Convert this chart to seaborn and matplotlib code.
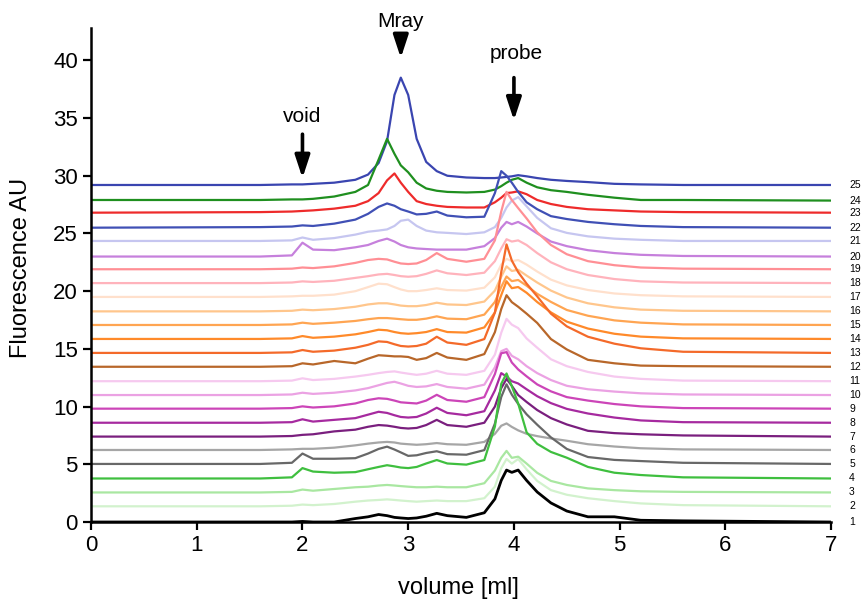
import matplotlib
matplotlib.use("Agg")
import matplotlib.pyplot as plt
import pandas as pd
import seaborn as sns

# shared elution-volume grid (ml)
volume = [0.0, 1.6, 1.9, 2.0, 2.1, 2.3, 2.5, 2.62, 2.72, 2.8, 2.87, 2.93, 3.0, 3.08,
          3.17, 3.27, 3.37, 3.55, 3.72, 3.82, 3.88, 3.93, 3.98, 4.04, 4.12, 4.22,
          4.35, 4.5, 4.7, 4.95, 5.2, 5.6, 7.0]

# vertical offset of each trace (Fluorescence AU)
baselines = [0.0, 1.36, 2.56, 3.77, 5.03, 6.24, 7.4, 8.6, 9.82, 11.0, 12.2, 13.45,
             14.65, 15.86, 17.07, 18.25, 19.5, 20.7, 21.9, 23.0, 24.35, 25.5, 26.8,
             27.8, 29.2]

trace_labels = ["1", "2", "3", "4", "5", "6", "7", "8", "9", "10", "11", "12", "13",
                "14", "15", "16", "17", "18", "19", "20", "21", "22", "23", "24", "25"]

colors = ["#000000", "#d2f2cd", "#a9e7a1", "#3fbf3f", "#686868", "#a6a6a6",
          "#7a1f7e", "#a62a9f", "#cc45b8", "#eba2e3", "#f6c9ef", "#b8672a",
          "#f46a2a", "#ff8a2a", "#ffa552", "#ffc68c", "#ffe0cc", "#ffb3bc",
          "#ff8f95", "#c680dc", "#c6c6f0", "#4050b5", "#ee2b2b", "#1f8f1f",
          "#3a45b0"]

# signal above each trace's own baseline
trace_1 = [0, 0, 0, 0.05, 0, 0, 0.3, 0.45, 0.65, 0.55, 0.4, 0.35, 0.3, 0.35, 0.5, 0.75, 0.55,
           0.4, 0.8, 2.0, 3.6, 4.5, 4.3, 4.5, 3.6, 2.6, 1.65, 0.95, 0.45, 0.45, 0.15, 0.1, 0]
trace_2 = [0, 0, 0.05, 0.15, 0.1, 0.2, 0.4, 0.5, 0.55, 0.6, 0.55, 0.5, 0.45, 0.4, 0.45, 0.5,
           0.45, 0.45, 0.7, 1.7, 3.3, 4.1, 3.7, 4.1, 3.2, 2.2, 1.4, 1.0, 0.7, 0.45, 0.25, 0.1, 0]
trace_3 = [0, 0, 0.05, 0.25, 0.15, 0.3, 0.45, 0.5, 0.6, 0.65, 0.6, 0.55, 0.5, 0.45, 0.45, 0.5,
           0.45, 0.45, 0.8, 1.9, 3.0, 3.6, 3.0, 3.1, 2.5, 1.7, 1.0, 0.65, 0.35, 0.2, 0.1, 0.05, 0]
trace_4 = [0, 0, 0.1, 0.9, 0.6, 0.5, 0.55, 0.8, 1.0, 1.15, 1.05, 0.95, 0.9, 1.0, 1.3, 1.6,
           1.3, 1.2, 1.6, 4.5, 8.2, 9.1, 8.0, 6.5, 4.0, 3.0, 2.3, 1.8, 1.0, 0.5, 0.3, 0.1, 0]
trace_5 = [0, 0, 0.1, 0.9, 0.45, 0.45, 0.5, 0.9, 1.3, 1.5, 1.25, 1.0, 0.7, 0.75, 0.95, 1.1,
           0.85, 0.8, 1.2, 3.5, 5.8, 6.9, 6.0, 5.2, 4.3, 3.4, 2.3, 1.3, 0.6, 0.35, 0.25, 0.1, 0]
trace_6 = [0, 0, 0.05, 0.1, 0.1, 0.2, 0.4, 0.55, 0.65, 0.7, 0.65, 0.55, 0.5, 0.45, 0.5, 0.6,
           0.5, 0.45, 0.7, 1.4, 2.1, 2.3, 2.0, 1.7, 1.4, 1.2, 1.0, 0.8, 0.5, 0.3, 0.15, 0.05, 0]
trace_7 = [0, 0, 0.05, 0.15, 0.2, 0.45, 0.6, 0.85, 1.0, 0.95, 0.85, 0.75, 0.7, 0.75, 1.0, 1.45,
           1.0, 0.85, 1.2, 2.6, 4.2, 5.0, 4.4, 3.6, 3.0, 2.3, 1.6, 1.05, 0.5, 0.3, 0.2, 0.1, 0]
trace_8 = [0, 0, 0.05, 0.3, 0.1, 0.25, 0.4, 0.7, 0.95, 0.85, 0.65, 0.5, 0.45, 0.5, 0.8, 1.3,
           0.85, 0.65, 1.0, 2.8, 4.3, 4.0, 3.6, 3.4, 2.9, 2.3, 1.7, 1.2, 0.8, 0.45, 0.2, 0.05, 0]
trace_9 = [0, 0, 0.05, 0.2, 0.1, 0.2, 0.45, 0.75, 0.9, 0.85, 0.7, 0.55, 0.5, 0.45, 0.7, 1.2,
           0.75, 0.6, 1.0, 3.0, 4.8, 4.9, 4.0, 3.4, 2.8, 2.1, 1.5, 1.0, 0.7, 0.4, 0.2, 0.05, 0]
trace_10 = [0, 0, 0.05, 0.2, 0.1, 0.2, 0.4, 0.6, 0.85, 1.05, 1.15, 1.0, 0.8, 0.7, 0.75, 0.95,
            0.7, 0.55, 0.9, 2.4, 3.8, 4.0, 3.4, 3.1, 2.5, 1.9, 1.3, 0.8, 0.5, 0.3, 0.15, 0.05, 0]
trace_11 = [0, 0, 0.05, 0.25, 0.1, 0.2, 0.4, 0.55, 0.7, 0.8, 0.85, 0.75, 0.65, 0.55, 0.65, 0.9,
            0.65, 0.55, 0.9, 2.3, 4.2, 5.4, 4.9, 4.6, 3.7, 2.9, 1.9, 1.3, 0.8, 0.4, 0.2, 0.05, 0]
trace_12 = [0, 0, 0.05, 0.3, 0.2, 0.5, 0.3, 0.7, 1.0, 0.95, 0.9, 0.9, 0.85, 0.6, 0.75, 1.2,
            0.8, 0.6, 1.1, 3.0, 5.0, 6.2, 5.6, 5.2, 4.6, 3.8, 2.4, 1.5, 0.6, 0.3, 0.1, 0.05, 0]
trace_13 = [0, 0, 0.05, 0.25, 0.1, 0.2, 0.45, 0.7, 1.0, 0.95, 0.75, 0.6, 0.55, 0.6, 0.8, 1.4,
            0.9, 0.7, 1.2, 3.5, 7.0, 9.4, 8.0, 7.0, 6.0, 4.9, 3.4, 2.3, 1.4, 0.8, 0.4, 0.1, 0]
trace_14 = [0, 0, 0.05, 0.25, 0.1, 0.2, 0.4, 0.6, 0.8, 0.75, 0.6, 0.5, 0.45, 0.5, 0.6, 0.85,
            0.6, 0.55, 1.0, 2.3, 3.8, 5.0, 4.4, 4.5, 4.0, 3.2, 2.3, 1.5, 0.9, 0.45, 0.2, 0.05, 0]
trace_15 = [0, 0, 0.05, 0.2, 0.1, 0.2, 0.35, 0.5, 0.6, 0.6, 0.55, 0.5, 0.45, 0.45, 0.55, 0.75,
            0.55, 0.5, 0.9, 2.0, 3.3, 4.2, 3.8, 3.9, 3.4, 2.7, 2.0, 1.3, 0.8, 0.4, 0.2, 0.05, 0]
trace_16 = [0, 0, 0.05, 0.15, 0.1, 0.2, 0.4, 0.6, 0.7, 0.7, 0.6, 0.5, 0.45, 0.45, 0.55, 0.75,
            0.6, 0.55, 0.85, 1.8, 3.0, 3.9, 3.5, 3.6, 3.1, 2.5, 1.8, 1.2, 0.7, 0.35, 0.15, 0.05, 0]
trace_17 = [0, 0, 0.05, 0.1, 0.1, 0.2, 0.5, 0.85, 1.15, 1.1, 0.85, 0.65, 0.5, 0.5, 0.6, 0.75,
            0.6, 0.55, 0.8, 1.7, 2.8, 3.3, 3.1, 3.2, 2.8, 2.2, 1.5, 1.0, 0.6, 0.3, 0.15, 0.05, 0]
trace_18 = [0, 0, 0.05, 0.15, 0.1, 0.2, 0.45, 0.6, 0.75, 0.8, 0.7, 0.6, 0.55, 0.6, 0.8, 1.1,
            0.85, 0.7, 0.9, 1.9, 3.0, 3.8, 3.6, 3.7, 3.3, 2.6, 1.8, 1.2, 0.7, 0.35, 0.15, 0.05, 0]
trace_19 = [0, 0, 0.05, 0.15, 0.1, 0.25, 0.55, 0.8, 0.9, 0.85, 0.65, 0.5, 0.45, 0.5, 0.8, 1.4,
            0.9, 0.65, 0.9, 2.5, 5.0, 6.7, 6.0, 5.3, 4.4, 3.2, 2.1, 1.3, 0.7, 0.35, 0.15, 0.05, 0]
trace_20 = [0, 0, 0.1, 1.2, 0.6, 0.55, 0.8, 1.0, 1.35, 1.55, 1.3, 1.0, 0.8, 0.7, 0.65, 0.6,
            0.6, 0.6, 0.9, 1.6, 2.5, 3.0, 2.8, 3.0, 2.6, 2.0, 1.3, 0.9, 0.55, 0.3, 0.15, 0.05, 0]
trace_21 = [0, 0, 0.05, 0.3, 0.1, 0.25, 0.55, 0.8, 0.9, 1.0, 1.3, 1.75, 1.85, 1.3, 0.9, 0.75,
            0.7, 0.6, 0.75, 1.2, 2.0, 2.9, 3.5, 3.8, 3.0, 2.0, 1.1, 0.7, 0.4, 0.2, 0.1, 0, 0]
trace_22 = [0, 0.05, 0.1, 0.2, 0.15, 0.35, 0.7, 1.2, 1.8, 2.1, 1.9, 1.6, 1.4, 1.15, 1.2, 1.4,
            1.05, 0.9, 0.95, 3.0, 4.9, 4.5, 3.9, 3.1, 2.2, 1.6, 1.0, 0.75, 0.5, 0.3, 0.15, 0.05, 0]
trace_23 = [0, 0.05, 0.1, 0.15, 0.2, 0.35, 0.6, 1.0, 1.7, 2.8, 3.4, 2.6, 1.8, 1.0, 0.75, 0.6,
            0.5, 0.45, 0.45, 0.9, 1.3, 1.7, 1.75, 1.85, 1.6, 1.1, 0.75, 0.5, 0.3, 0.2, 0.1, 0.05, 0]
trace_24 = [0.1, 0.1, 0.15, 0.15, 0.2, 0.4, 0.8, 1.4, 3.6, 5.4, 4.1, 3.1, 2.5, 1.6, 1.1, 0.9,
            0.8, 0.75, 0.8, 1.0, 1.3, 1.6, 1.85, 2.0, 1.6, 1.2, 0.95, 0.8, 0.55, 0.3, 0.1, 0.1, 0.05]
trace_25 = [0, 0, 0.05, 0.05, 0.1, 0.2, 0.45, 0.9, 1.9, 3.8, 7.8, 9.3, 7.8, 4.0, 2.0, 1.2,
            0.8, 0.65, 0.6, 0.6, 0.65, 0.7, 0.75, 0.85, 0.75, 0.6, 0.45, 0.35, 0.25, 0.1, 0.05, 0, 0]

signals = [trace_1, trace_2, trace_3, trace_4, trace_5, trace_6, trace_7, trace_8,
           trace_9, trace_10, trace_11, trace_12, trace_13, trace_14, trace_15,
           trace_16, trace_17, trace_18, trace_19, trace_20, trace_21, trace_22,
           trace_23, trace_24, trace_25]

frames = []
for lab, base, sig in zip(trace_labels, baselines, signals):
    frames.append(pd.DataFrame({"volume": volume,
                                "fluor": [base + s for s in sig],
                                "trace": lab}))
df = pd.concat(frames, ignore_index=True)

sns.set_style("ticks")
plt.rcParams["font.family"] = ["Liberation Sans", "DejaVu Sans"]
plt.rcParams["text.color"] = "black"
plt.rcParams["axes.labelcolor"] = "black"

fig = plt.figure(figsize=(8.61, 6.0), dpi=100)
ax = fig.add_axes([0.1057, 0.13, 0.8596, 0.8233])

# draw top traces first so lower traces sit on top
for lab, col in reversed(list(zip(trace_labels, colors))):
    sub = df[df["trace"] == lab]
    sns.lineplot(data=sub, x="volume", y="fluor", color=col,
                 lw=2.0 if lab == "1" else 1.6, estimator=None, sort=False,
                 ax=ax, legend=False)

ax.set_xlim(0, 7)
ax.set_ylim(0, 42.8)
ax.set_xticks(range(0, 8))
ax.set_yticks(range(0, 45, 5))
ax.tick_params(axis="both", labelsize=16, direction="out", length=6, width=1.6,
               colors="black")
for side in ["top", "right"]:
    ax.spines[side].set_visible(False)
for side in ["left", "bottom"]:
    ax.spines[side].set_linewidth(1.8)
    ax.spines[side].set_color("black")

ax.set_xlabel("volume [ml]", fontsize=17, color="black")
ax.set_ylabel("Fluorescence AU", fontsize=17, color="black")
ax.xaxis.set_label_coords(0.496, -0.112)
ax.yaxis.set_label_coords(-0.080, 0.514)

# trace numbers at right
for lab, base in zip(trace_labels, baselines):
    ax.text(7.17, base, lab, fontsize=7.5, ha="left", va="center", clip_on=False,
            color="black")

arrow_kw = dict(arrowstyle="-|>,head_width=0.28,head_length=0.85", color="black",
                lw=2.6, mutation_scale=16, shrinkA=0, shrinkB=0)
ax.annotate("", xy=(2.0, 29.8), xytext=(2.0, 33.6), arrowprops=arrow_kw,
            annotation_clip=False)
ax.annotate("", xy=(2.93, 40.2), xytext=(2.93, 42.3), arrowprops=arrow_kw,
            annotation_clip=False)
ax.annotate("", xy=(4.0, 34.8), xytext=(4.0, 38.5), arrowprops=arrow_kw,
            annotation_clip=False)
ax.text(2.0, 35.1, "void", fontsize=15, ha="center", va="center", clip_on=False,
        color="black")
ax.text(2.93, 43.4, "Mray", fontsize=15, ha="center", va="center", clip_on=False,
        color="black")
ax.text(4.02, 40.6, "probe", fontsize=15, ha="center", va="center", clip_on=False,
        color="black")

fig.savefig("out.png", dpi=100)
